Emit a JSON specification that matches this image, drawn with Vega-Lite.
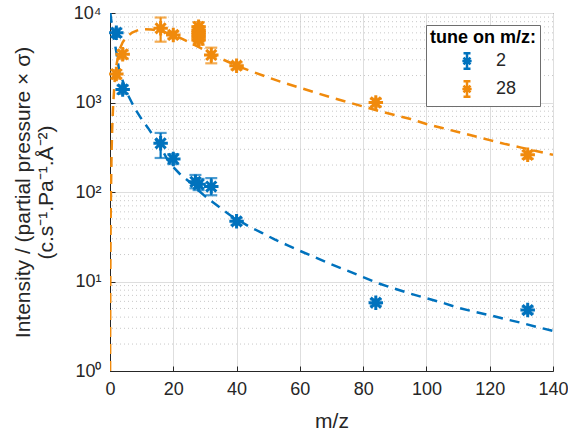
{
  "$schema": "https://vega.github.io/schema/vega-lite/v6.json",
  "width": 443,
  "height": 358,
  "autosize": "none",
  "padding": {"left": 110, "top": 13, "right": 15, "bottom": 63},
  "background": "white",
  "config": {
    "font": "Liberation Sans",
    "view": {"stroke": "#262626", "strokeWidth": 1},
    "axis": {
      "domainColor": "#262626",
      "tickColor": "#262626",
      "labelColor": "#262626",
      "titleColor": "#262626",
      "labelFont": "Liberation Sans",
      "titleFont": "Liberation Sans",
      "labelFontSize": 18,
      "titleFontSize": 21,
      "titleFontWeight": "normal",
      "gridColor": "#dedede",
      "gridWidth": 1,
      "tickSize": -5,
      "labelPadding": 14,
      "labelFlush": false
    },
    "legend": {
      "titleFont": "Liberation Sans",
      "labelFont": "Liberation Sans"
    }
  },
  "resolve": {"scale": {"color": "independent"}},
  "datasets": {
    "minor": [
      {"v": 2}, {"v": 3}, {"v": 4}, {"v": 5}, {"v": 6}, {"v": 7}, {"v": 8}, {"v": 9},
      {"v": 20}, {"v": 30}, {"v": 40}, {"v": 50}, {"v": 60}, {"v": 70}, {"v": 80}, {"v": 90},
      {"v": 200}, {"v": 300}, {"v": 400}, {"v": 500}, {"v": 600}, {"v": 700}, {"v": 800}, {"v": 900},
      {"v": 2000}, {"v": 3000}, {"v": 4000}, {"v": 5000}, {"v": 6000}, {"v": 7000}, {"v": 8000}, {"v": 9000}
    ],
    "curves": [
      {"tune": "2", "mz": 0.1, "val": 10000},
      {"tune": "2", "mz": 0.5, "val": 7800},
      {"tune": "2", "mz": 1, "val": 6000},
      {"tune": "2", "mz": 1.5, "val": 4600},
      {"tune": "2", "mz": 2, "val": 3700},
      {"tune": "2", "mz": 3, "val": 2150},
      {"tune": "2", "mz": 4, "val": 1750},
      {"tune": "2", "mz": 5, "val": 1400},
      {"tune": "2", "mz": 6, "val": 1150},
      {"tune": "2", "mz": 7, "val": 980},
      {"tune": "2", "mz": 8, "val": 840},
      {"tune": "2", "mz": 10, "val": 650},
      {"tune": "2", "mz": 12, "val": 520},
      {"tune": "2", "mz": 14, "val": 410},
      {"tune": "2", "mz": 16, "val": 320},
      {"tune": "2", "mz": 18, "val": 235},
      {"tune": "2", "mz": 20, "val": 190},
      {"tune": "2", "mz": 22, "val": 160},
      {"tune": "2", "mz": 24, "val": 140},
      {"tune": "2", "mz": 26, "val": 122},
      {"tune": "2", "mz": 28, "val": 104},
      {"tune": "2", "mz": 30, "val": 90},
      {"tune": "2", "mz": 32, "val": 79},
      {"tune": "2", "mz": 34, "val": 70},
      {"tune": "2", "mz": 36, "val": 62},
      {"tune": "2", "mz": 38, "val": 55},
      {"tune": "2", "mz": 40, "val": 50},
      {"tune": "2", "mz": 44, "val": 41},
      {"tune": "2", "mz": 48, "val": 35},
      {"tune": "2", "mz": 52, "val": 29.5},
      {"tune": "2", "mz": 56, "val": 25.5},
      {"tune": "2", "mz": 60, "val": 22},
      {"tune": "2", "mz": 65, "val": 18.5},
      {"tune": "2", "mz": 70, "val": 15.5},
      {"tune": "2", "mz": 75, "val": 13.2},
      {"tune": "2", "mz": 80, "val": 11.2},
      {"tune": "2", "mz": 85, "val": 9.5},
      {"tune": "2", "mz": 90, "val": 8.3},
      {"tune": "2", "mz": 95, "val": 7.3},
      {"tune": "2", "mz": 100, "val": 6.5},
      {"tune": "2", "mz": 105, "val": 5.8},
      {"tune": "2", "mz": 110, "val": 5.1},
      {"tune": "2", "mz": 115, "val": 4.6},
      {"tune": "2", "mz": 120, "val": 4.2},
      {"tune": "2", "mz": 125, "val": 3.8},
      {"tune": "2", "mz": 130, "val": 3.45},
      {"tune": "2", "mz": 135, "val": 3.1},
      {"tune": "2", "mz": 140, "val": 2.8},
      {"tune": "28", "mz": 0.03, "val": 1},
      {"tune": "28", "mz": 0.05, "val": 3},
      {"tune": "28", "mz": 0.1, "val": 11},
      {"tune": "28", "mz": 0.2, "val": 45},
      {"tune": "28", "mz": 0.3, "val": 100},
      {"tune": "28", "mz": 0.5, "val": 280},
      {"tune": "28", "mz": 0.7, "val": 520},
      {"tune": "28", "mz": 1, "val": 950},
      {"tune": "28", "mz": 1.5, "val": 1800},
      {"tune": "28", "mz": 2, "val": 2600},
      {"tune": "28", "mz": 3, "val": 3900},
      {"tune": "28", "mz": 4, "val": 4700},
      {"tune": "28", "mz": 5, "val": 5300},
      {"tune": "28", "mz": 7, "val": 6050},
      {"tune": "28", "mz": 9, "val": 6450},
      {"tune": "28", "mz": 11, "val": 6600},
      {"tune": "28", "mz": 13, "val": 6550},
      {"tune": "28", "mz": 15, "val": 6400},
      {"tune": "28", "mz": 17, "val": 6150},
      {"tune": "28", "mz": 19, "val": 5850},
      {"tune": "28", "mz": 21, "val": 5500},
      {"tune": "28", "mz": 23, "val": 5100},
      {"tune": "28", "mz": 25, "val": 4700},
      {"tune": "28", "mz": 27, "val": 4350},
      {"tune": "28", "mz": 29, "val": 4000},
      {"tune": "28", "mz": 32, "val": 3500},
      {"tune": "28", "mz": 35, "val": 3100},
      {"tune": "28", "mz": 38, "val": 2780},
      {"tune": "28", "mz": 40, "val": 2570},
      {"tune": "28", "mz": 45, "val": 2210},
      {"tune": "28", "mz": 50, "val": 1905},
      {"tune": "28", "mz": 55, "val": 1660},
      {"tune": "28", "mz": 60, "val": 1462},
      {"tune": "28", "mz": 65, "val": 1288},
      {"tune": "28", "mz": 70, "val": 1135},
      {"tune": "28", "mz": 75, "val": 1012},
      {"tune": "28", "mz": 80, "val": 902},
      {"tune": "28", "mz": 85, "val": 804},
      {"tune": "28", "mz": 90, "val": 724},
      {"tune": "28", "mz": 95, "val": 653},
      {"tune": "28", "mz": 100, "val": 575},
      {"tune": "28", "mz": 105, "val": 519},
      {"tune": "28", "mz": 110, "val": 468},
      {"tune": "28", "mz": 115, "val": 422},
      {"tune": "28", "mz": 120, "val": 380},
      {"tune": "28", "mz": 125, "val": 343},
      {"tune": "28", "mz": 130, "val": 313},
      {"tune": "28", "mz": 135, "val": 285},
      {"tune": "28", "mz": 140, "val": 260}
    ],
    "points": [
      {"tune": "2", "mz": 2, "val": 6000, "lo": 5400, "hi": 6700},
      {"tune": "2", "mz": 4, "val": 1400, "lo": 1250, "hi": 1550},
      {"tune": "2", "mz": 16, "val": 350, "lo": 240, "hi": 457},
      {"tune": "2", "mz": 20, "val": 234, "lo": 205, "hi": 265},
      {"tune": "2", "mz": 27, "val": 130, "lo": 110, "hi": 155},
      {"tune": "2", "mz": 28, "val": 122, "lo": 105, "hi": 140},
      {"tune": "2", "mz": 32, "val": 115, "lo": 92, "hi": 143},
      {"tune": "2", "mz": 40, "val": 47, "lo": 43, "hi": 51},
      {"tune": "2", "mz": 84, "val": 5.8, "lo": 5.4, "hi": 6.3},
      {"tune": "2", "mz": 132, "val": 4.8, "lo": 4.4, "hi": 5.2},
      {"tune": "28", "mz": 2, "val": 2080, "lo": 1850, "hi": 2300},
      {"tune": "28", "mz": 4, "val": 3450, "lo": 3100, "hi": 3800},
      {"tune": "28", "mz": 16, "val": 6750, "lo": 4780, "hi": 8900},
      {"tune": "28", "mz": 20, "val": 5680, "lo": 5200, "hi": 6200},
      {"tune": "28", "mz": 28, "val": 5000, "lo": 4400, "hi": 5600},
      {"tune": "28", "mz": 28, "val": 5350, "lo": 4800, "hi": 5900},
      {"tune": "28", "mz": 28, "val": 5700, "lo": 5100, "hi": 6300},
      {"tune": "28", "mz": 28, "val": 6050, "lo": 5450, "hi": 6700},
      {"tune": "28", "mz": 28, "val": 6400, "lo": 5800, "hi": 7100},
      {"tune": "28", "mz": 28, "val": 7000, "lo": 6300, "hi": 7900},
      {"tune": "28", "mz": 32, "val": 3400, "lo": 2740, "hi": 4100},
      {"tune": "28", "mz": 40, "val": 2580, "lo": 2350, "hi": 2800},
      {"tune": "28", "mz": 84, "val": 1000, "lo": 900, "hi": 1100},
      {"tune": "28", "mz": 132, "val": 260, "lo": 235, "hi": 285}
    ]
  },
  "layer": [
    {
      "data": {"name": "minor"},
      "mark": {"type": "rule", "color": "#c8c8c8", "strokeWidth": 1, "strokeDash": [1, 3]},
      "encoding": {
        "y": {
          "field": "v", "type": "quantitative",
          "scale": {"type": "log", "domain": [1, 10000], "nice": false},
          "axis": {
            "values": [1, 10, 100, 1000, 10000],
            "grid": true,
            "labelExpr": "datum.value == 1 ? '10⁰' : datum.value == 10 ? '10¹' : datum.value == 100 ? '10²' : datum.value == 1000 ? '10³' : '10⁴'",
            "title": ["Intensity / (partial pressure × σ)", "(c.s⁻¹.Pa⁻¹.Å⁻²)"],
            "titlePadding": 17
          }
        }
      }
    },
    {
      "data": {"name": "curves"},
      "mark": {"type": "line", "strokeWidth": 2.5, "strokeDash": [10, 7], "clip": true},
      "encoding": {
        "x": {
          "field": "mz", "type": "quantitative",
          "scale": {"domain": [0, 140], "nice": false},
          "axis": {"values": [0, 20, 40, 60, 80, 100, 120, 140], "grid": true, "title": "m/z", "titlePadding": 12, "titleFontSize": 21}
        },
        "y": {"field": "val", "type": "quantitative"},
        "color": {"field": "tune", "type": "nominal", "scale": {"domain": ["2", "28"], "range": ["#0072BD", "#F08A0C"]}, "legend": null}
      }
    },
    {
      "data": {"name": "points"},
      "mark": {"type": "rule", "strokeWidth": 2.2},
      "encoding": {
        "x": {"field": "mz", "type": "quantitative"},
        "y": {"field": "lo", "type": "quantitative"},
        "y2": {"field": "hi"},
        "color": {"field": "tune", "type": "nominal", "scale": {"domain": ["2", "28"], "range": ["#0072BD", "#F08A0C"]}, "legend": null}
      }
    },
    {
      "data": {"name": "points"},
      "mark": {"type": "tick", "orient": "horizontal", "size": 12, "thickness": 2.2},
      "encoding": {
        "x": {"field": "mz", "type": "quantitative"},
        "y": {"field": "lo", "type": "quantitative"},
        "color": {"field": "tune", "type": "nominal", "scale": {"domain": ["2", "28"], "range": ["#0072BD", "#F08A0C"]}, "legend": null}
      }
    },
    {
      "data": {"name": "points"},
      "mark": {"type": "tick", "orient": "horizontal", "size": 12, "thickness": 2.2},
      "encoding": {
        "x": {"field": "mz", "type": "quantitative"},
        "y": {"field": "hi", "type": "quantitative"},
        "color": {"field": "tune", "type": "nominal", "scale": {"domain": ["2", "28"], "range": ["#0072BD", "#F08A0C"]}, "legend": null}
      }
    },
    {
      "data": {"name": "points"},
      "mark": {
        "type": "point",
        "filled": false,
        "shape": "M-1,0L1,0M0,-1L0,1M-0.7,-0.7L0.7,0.7M-0.7,0.7L0.7,-0.7",
        "size": 210,
        "strokeWidth": 3,
        "opacity": 1
      },
      "encoding": {
        "x": {"field": "mz", "type": "quantitative"},
        "y": {"field": "val", "type": "quantitative"},
        "color": {
          "field": "tune", "type": "nominal",
          "scale": {"domain": ["2", "28"], "range": ["#0072BD", "#F08A0C"]},
          "legend": {
            "title": "tune on m/z:",
            "orient": "none",
            "legendX": 316,
            "legendY": 12,
            "titleFontSize": 18,
            "titleFontWeight": "bold",
            "titleColor": "#000000",
            "labelFontSize": 18,
            "labelColor": "#262626",
            "strokeColor": "#6e6e6e",
            "fillColor": "white",
            "padding": 4,
            "rowPadding": 2,
            "titlePadding": 5,
            "symbolType": "M-0.45,-1L0.45,-1M0,-1L0,1M-0.45,1L0.45,1M-0.6,0L0.6,0M-0.45,-0.45L0.45,0.45M-0.45,0.45L0.45,-0.45",
            "symbolSize": 240,
            "symbolStrokeWidth": 2.5,
            "symbolOffset": 28,
            "labelOffset": 20
          }
        }
      }
    }
  ]
}
